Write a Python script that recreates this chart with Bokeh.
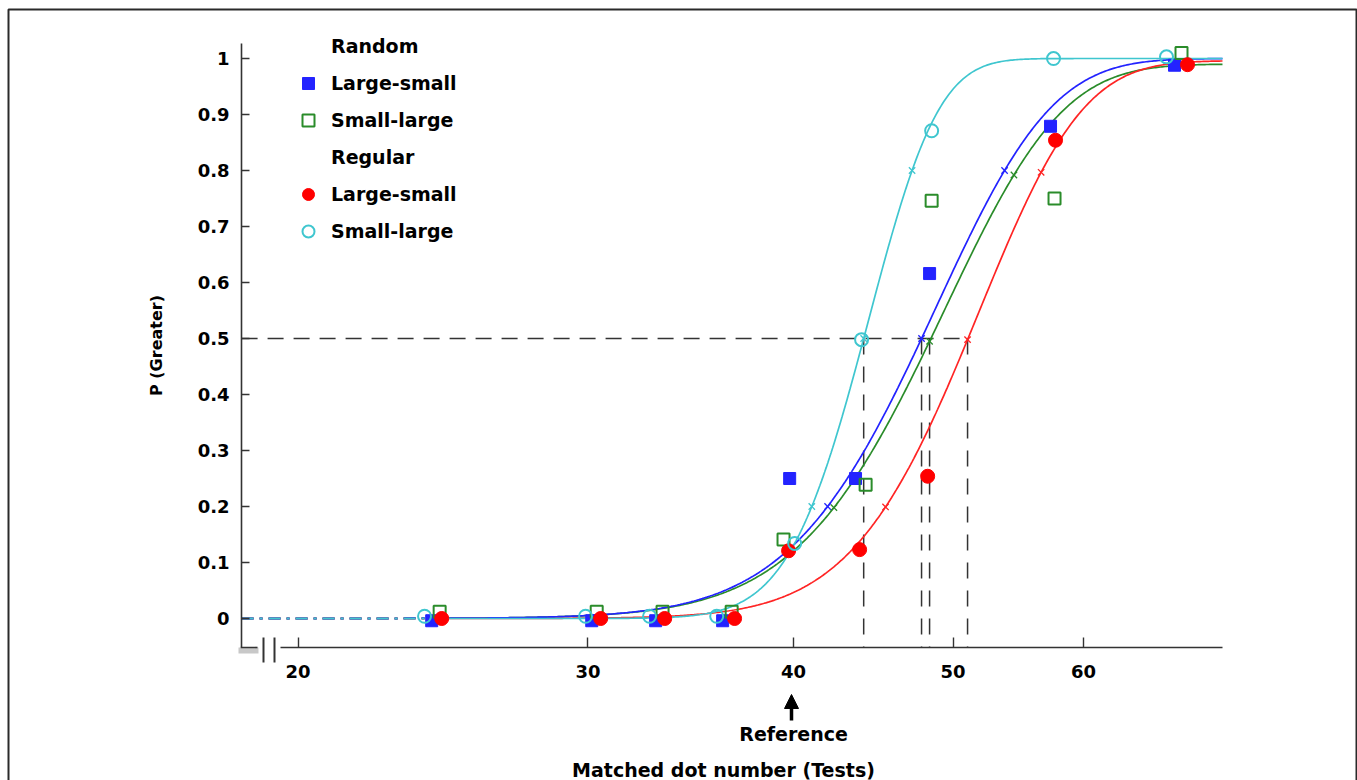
import math
import numpy as np
from bokeh.plotting import figure
from bokeh.models import (Range1d, FixedTicker, PrintfTickFormatter, Legend, LegendItem,
                          Label, Arrow, NormalHead, BoxAnnotation)
from bokeh.embed import file_html
from bokeh.resources import INLINE

# ---------------- data ----------------
x_ticks = [20, 30, 40, 50, 60]
y_ticks = [0, 0.1, 0.2, 0.3, 0.4, 0.5, 0.6, 0.7, 0.8, 0.9, 1.0]
y_tick_labels = ["0", "0.1", "0.2", "0.3", "0.4", "0.5", "0.6", "0.7", "0.8", "0.9", "1"]

# Random, Large-small (blue filled squares)
rand_ls_x = [24.11, 30.16, 32.98, 36.22, 39.78, 43.62, 48.38, 57.30, 68.15]
rand_ls_y = [-0.004, -0.004, -0.004, -0.004, 0.25, 0.25, 0.616, 0.879, 0.988]
# Random, Small-large (green open squares)
rand_sl_x = [24.38, 30.37, 33.30, 36.68, 39.44, 44.24, 48.52, 57.62, 68.82]
rand_sl_y = [0.012, 0.012, 0.012, 0.012, 0.141, 0.239, 0.746, 0.75, 1.01]
# Regular, Large-small (red filled circles)
reg_ls_x = [24.45, 30.54, 33.40, 36.83, 39.72, 43.87, 48.25, 57.70, 69.40]
reg_ls_y = [0.0, 0.0, 0.0, 0.0, 0.121, 0.123, 0.254, 0.854, 0.989]
# Regular, Small-large (cyan open circles)
reg_sl_x = [23.87, 29.90, 32.70, 35.92, 40.06, 43.99, 48.52, 57.54, 67.39]
reg_sl_y = [0.004, 0.004, 0.004, 0.004, 0.134, 0.498, 0.871, 1.0, 1.003]

# fitted psychometric functions (cumulative normal), parameters
fit_pse = [47.84, 48.38, 51.02, 44.12]     # rand L-S, rand S-L, reg L-S, reg S-L
fit_sigma = [7.0, 7.2, 6.57, 3.67]
fit_top = [1.0, 0.99, 0.996, 1.0]
fit_start = 24.0

reference_value = 40

# ---------------- styling ----------------
BLUE = "#2323ff"
GREEN = "#2a8c2a"
RED = "#ff2424"
CYAN = "#3fc6cf"
DARK = "#333333"
FONT = "DejaVu Sans"
fit_colors = [BLUE, GREEN, RED, CYAN]

W, H = 1357, 780
# axis extents (data units)
X_MIN, X_MAX = 18.48, 72.88      # plotted x extent
X_AXIS_START = 19.52             # x axis line resumes after the break
Y_MIN, Y_MAX = -0.0518, 1.0268
# whole-canvas view ranges so that annotations outside the axes are not clipped
VIEW_X = (13.19, 88.03)
VIEW_Y = (-0.2893, 1.1036)

p = figure(width=W, height=H, x_axis_type="log",
           x_range=Range1d(*VIEW_X), y_range=Range1d(*VIEW_Y),
           output_backend="svg", toolbar_location=None,
           min_border_left=0, min_border_right=0, min_border_top=0, min_border_bottom=0)
p.outline_line_color = None
p.xgrid.visible = False
p.ygrid.visible = False
p.background_fill_color = "white"
p.border_fill_color = "white"

# axes (kept in the below/left panels, drawn at fixed data locations)
xa = p.xaxis[0]
xa.fixed_location = Y_MIN
xa.ticker = FixedTicker(ticks=x_ticks, minor_ticks=[])
xa.formatter = PrintfTickFormatter(format="%d")
xa.bounds = (X_AXIS_START, X_MAX)
xa.axis_line_color = DARK
xa.axis_line_width = 1.6
xa.major_tick_in = 10
xa.major_tick_out = 0
xa.major_tick_line_color = DARK
xa.major_tick_line_width = 1.4
xa.minor_tick_line_color = None
xa.major_label_text_font = FONT
xa.major_label_text_font_style = "bold"
xa.major_label_text_font_size = "18px"
xa.major_label_text_color = "black"
xa.major_label_standoff = 17

ya = p.yaxis[0]
ya.fixed_location = X_MIN
ya.ticker = FixedTicker(ticks=y_ticks, minor_ticks=[])
ya.major_label_overrides = {t: l for t, l in zip(y_ticks, y_tick_labels)}
ya.bounds = (Y_MIN, Y_MAX)
ya.axis_line_color = DARK
ya.axis_line_width = 1.6
ya.major_tick_in = 8
ya.major_tick_out = 0
ya.major_tick_line_color = DARK
ya.major_tick_line_width = 1.4
ya.minor_tick_line_color = None
ya.major_label_text_font = FONT
ya.major_label_text_font_style = "bold"
ya.major_label_text_font_size = "18px"
ya.major_label_text_color = "black"
ya.major_label_standoff = 12
ya.axis_label = "P (Greater)"
ya.axis_label_text_font = FONT
ya.axis_label_text_font_style = "bold"
ya.axis_label_text_font_size = "16px"
ya.axis_label_text_color = "black"
ya.axis_label_standoff = 29

# reference dashed lines at the PSEs
p.segment(x0=fit_pse, y0=[0.5] * len(fit_pse), x1=fit_pse, y1=[Y_MIN] * len(fit_pse),
          line_color=DARK, line_width=1.5, line_dash="16 12")
p.segment(x0=[X_MIN], y0=[0.5], x1=[max(fit_pse)], y1=[0.5],
          line_color=DARK, line_width=1.5, line_dash="16 10")

# fitted curves
erf = np.vectorize(math.erf)
order = [1, 2, 0, 3]  # green, red, blue, cyan on top
for i in order:
    mu, s, top, col = fit_pse[i], fit_sigma[i], fit_top[i], fit_colors[i]
    xs_l = np.exp(np.linspace(np.log(X_MIN), np.log(fit_start), 60))
    xs_r = np.exp(np.linspace(np.log(fit_start), np.log(X_MAX), 500))
    ys_l = top * 0.5 * (1 + erf((xs_l - mu) / (s * math.sqrt(2))))
    ys_r = top * 0.5 * (1 + erf((xs_r - mu) / (s * math.sqrt(2))))
    p.line(xs_l, ys_l, line_color=col, line_width=2, line_dash="12 6 3 6")
    p.line(xs_r, ys_r, line_color=col, line_width=1.7)
    zs = [-0.8416, 0.0, 0.8416]
    cx = [mu + z * s for z in zs]
    cy = [top * 0.5 * (1 + math.erf(z / math.sqrt(2))) for z in zs]
    p.scatter(cx, cy, marker="x", size=9, line_color=col, line_width=1.3)

# data points
r_bls = p.scatter(rand_ls_x, rand_ls_y, marker="square", size=12,
                  fill_color=BLUE, line_color=BLUE, line_width=1)
r_gsl = p.scatter(rand_sl_x, rand_sl_y, marker="square", size=12,
                  fill_color=None, line_color=GREEN, line_width=2)
r_rls = p.scatter(reg_ls_x, reg_ls_y, marker="circle", size=14,
                  fill_color="#ff0000", line_color="#ff0000", line_width=1)
r_csl = p.scatter(reg_sl_x, reg_sl_y, marker="circle", size=13,
                  fill_color="white", fill_alpha=0.0, line_color=CYAN, line_width=2)

# legend with group headers
dummy = p.scatter([], [], marker="square", size=1, fill_alpha=0, line_alpha=0)
legend = Legend(items=[
    LegendItem(label="Random", renderers=[dummy]),
    LegendItem(label="Large-small", renderers=[r_bls]),
    LegendItem(label="Small-large", renderers=[r_gsl]),
    LegendItem(label="Regular", renderers=[dummy]),
    LegendItem(label="Large-small", renderers=[r_rls]),
    LegendItem(label="Small-large", renderers=[r_csl]),
], location=(293, H - 246))
legend.glyph_width = 30
legend.glyph_height = 30
legend.label_height = 30
legend.spacing = 7
legend.label_standoff = 8
legend.padding = 0
legend.margin = 0
legend.border_line_alpha = 0
legend.background_fill_alpha = 0
legend.label_text_font = FONT
legend.label_text_font_style = "bold"
legend.label_text_font_size = "19px"
legend.label_text_color = "black"
p.add_layout(legend, "center")

# x axis title and the "Reference" marker under the axis
p.add_layout(Label(x=723, y=H - 769, x_units="screen", y_units="screen",
                   text="Matched dot number (Tests)", text_align="center",
                   text_baseline="middle", text_font=FONT, text_font_style="bold",
                   text_font_size="19px", text_color="black"))
p.add_layout(Label(x=reference_value, y=H - 733, x_units="data", y_units="screen",
                   text="Reference", text_align="center", text_baseline="middle",
                   text_font=FONT, text_font_style="bold", text_font_size="19px",
                   text_color="black"))
p.add_layout(Arrow(end=NormalHead(size=14, fill_color="black", line_color="black",
                                  line_width=1),
                   x_start=791, y_start=H - 720, x_end=791, y_end=H - 694,
                   start_units="screen", end_units="screen",
                   line_color="black", line_width=3.5))


def screen_box(l, r, t, b, **kw):
    """box given in canvas pixels (top-left origin)"""
    return BoxAnnotation(left=l, right=r, top=H - t, bottom=H - b,
                         left_units="screen", right_units="screen",
                         top_units="screen", bottom_units="screen", **kw)


# axis corner, shadow and break marks
p.add_layout(screen_box(238, 258, 647, 653, fill_color="#c8c8c8", fill_alpha=1, line_alpha=0))
p.add_layout(screen_box(240.2, 257, 646.2, 647.8, fill_color=DARK, fill_alpha=1, line_alpha=0))
for bx in (262, 273):
    p.add_layout(screen_box(bx, bx + 2, 637, 662, fill_color=DARK, fill_alpha=1, line_alpha=0))
# outer frame of the figure
p.add_layout(screen_box(8, 1356, 9, 800, fill_alpha=0, line_color="#2a2a2a",
                        line_alpha=1, line_width=2))

open("out.html", "w").write(file_html(p, INLINE))
